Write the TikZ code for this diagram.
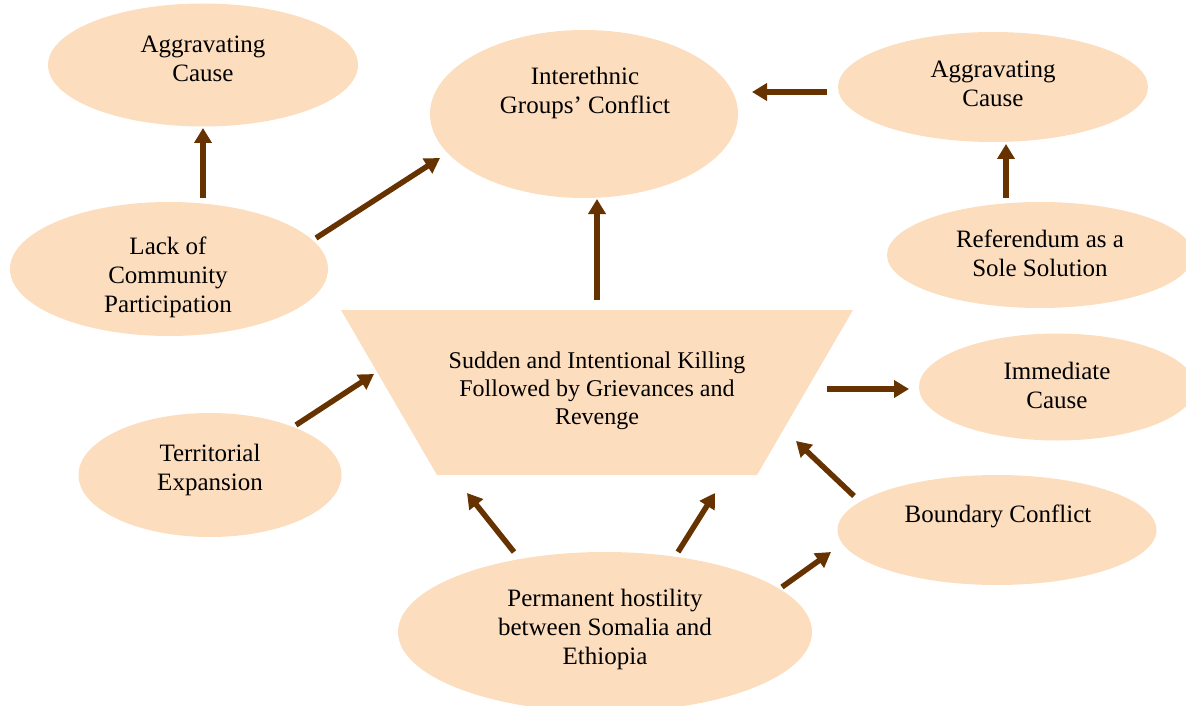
\documentclass[tikz,border=0pt]{standalone}
\usepackage{fontspec}
\setmainfont{Liberation Serif}
\usetikzlibrary{arrows.meta,calc,shapes.geometric}
\definecolor{peach}{RGB}{252,221,190}
\definecolor{arrowbrown}{RGB}{102,51,0}
\begin{document}
\begin{tikzpicture}[x=1pt,y=-1pt,
  ell/.style={ellipse,fill=peach,draw=none,inner sep=0pt},
  lbl/.style={align=center,anchor=base,inner sep=0pt,font=\fontsize{25}{29}\selectfont},
  tlbl/.style={align=center,anchor=base,inner sep=0pt,font=\fontsize{24}{28}\selectfont},
  arr/.style={draw=arrowbrown,line width=5.5pt,-{Triangle[length=15pt,width=17pt]}}]
\useasboundingbox (0,0) rectangle (1186,706);
% shapes
\node[ell,minimum width=310pt,minimum height=123pt] (A) at (203,65) {};
\node[ell,minimum width=308pt,minimum height=168pt] (B) at (584,114) {};
\node[ell,minimum width=310pt,minimum height=110pt] (C) at (993,87) {};
\node[ell,minimum width=306pt,minimum height=106pt] (D) at (1040,255) {};
\node[ell,minimum width=318pt,minimum height=134pt] (E) at (169,269) {};
\node[ell,minimum width=276pt,minimum height=107pt] (F) at (1057,387) {};
\node[ell,minimum width=263pt,minimum height=124pt] (G) at (210,475) {};
\node[ell,minimum width=319pt,minimum height=110pt] (H) at (997,530) {};
\node[ell,minimum width=414pt,minimum height=160pt] (I) at (605,632) {};
\coordinate (T) at (597,392.5);
\fill[peach] ($(T)+(-256,-82.5)$) -- ($(T)+(256,-82.5)$) -- ($(T)+(160,82.5)$) -- ($(T)+(-160,82.5)$) -- cycle;
% labels (anchor=base is the baseline of the last line)
\node[lbl] (At) at (203,82) {Aggravating\\Cause};
\node[lbl] (Bt) at (585,114) {Interethnic\\Groups’ Conflict};
\node[lbl] (Ct) at (993,107) {Aggravating\\Cause};
\node[lbl] (Dt) at (1040,276) {Referendum as a\\Sole Solution};
\node[lbl] (Et) at (168,312) {Lack of\\Community\\Participation};
\node[lbl] (Ft) at (1057,408) {Immediate\\Cause};
\node[lbl] (Gt) at (210,490) {Territorial\\Expansion};
\node[lbl] (Ht) at (998,522) {Boundary Conflict};
\node[lbl] (It) at (605,664) {Permanent hostility\\between Somalia and\\Ethiopia};
\node[tlbl] (Tt) at (597,424) {Sudden and Intentional Killing\\Followed by Grievances and\\Revenge};
% connectors
\draw[arr] ($(E)+(34,-71)$) -- ($(A)+(0,63)$);
\draw[arr] ($(E)+(147,-31)$) -- ($(B)+(-144,44)$);
\draw[arr] ($(T)+(0,-92.5)$) -- ($(B)+(13,85)$);
\draw[arr] ($(C)+(-166,5)$) -- ($(B)+(168,-22)$);
\draw[arr] ($(D)+(-34,-57)$) -- ($(C)+(13,57)$);
\draw[arr] ($(T)+(230,-3.5)$) -- ($(F)+(-148,2)$);
\draw[arr] ($(G)+(86,-50)$) -- ($(T)+(-223,-18.5)$);
\draw[arr] ($(H)+(-143,-34)$) -- ($(T)+(199,48.5)$);
\draw[arr] ($(I)+(-91,-80)$) -- ($(T)+(-130,100.5)$);
\draw[arr] ($(I)+(73,-80)$) -- ($(T)+(118,100.5)$);
\draw[arr] ($(I)+(177,-45)$) -- ($(H)+(-166,22)$);
\end{tikzpicture}
\end{document}
